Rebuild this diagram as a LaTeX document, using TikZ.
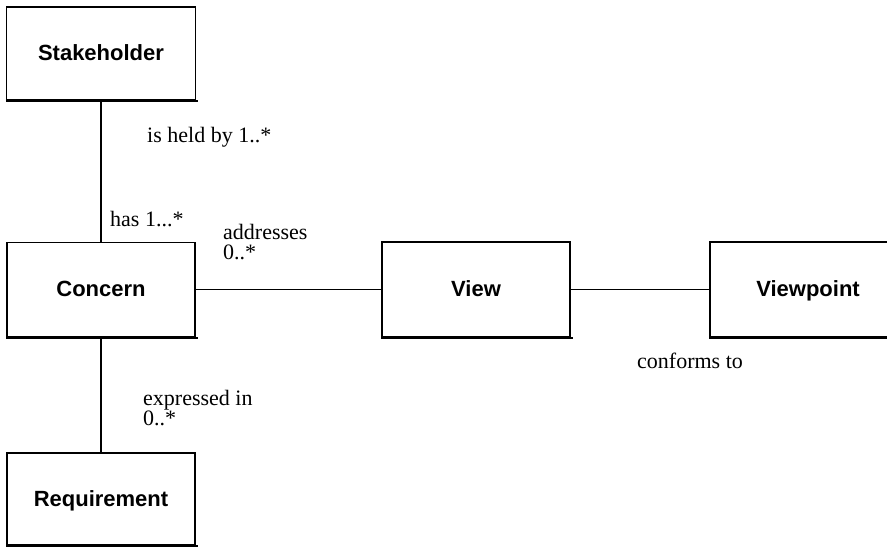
\documentclass[tikz,border=0pt]{standalone}
\usepackage{fontspec}
\setmainfont{Liberation Serif}
\newfontfamily\boxfont{Liberation Sans}
\newcommand\entlbl[1]{\lower3.5pt\hbox{#1}}
\begin{document}
\begin{tikzpicture}[x=1pt,y=-1pt,
  entity/.style={draw=black, line width=1.3pt, rectangle, inner sep=0pt,
    font=\boxfont\bfseries\fontsize{22}{24}\selectfont, text=black,
    text height=0.72em, text depth=0pt},
  lbl/.style={inner sep=0pt, anchor=west, font=\fontsize{22}{23}\selectfont, align=left},
  conn/.style={draw=black, line width=1.3pt}
]
\useasboundingbox (0,0) rectangle (887,547);
\fill[white] (0,0) rectangle (887,547);
\node[entity, minimum width=189pt, minimum height=93pt] (stake) at (101,53.5) {\entlbl{Stakeholder}};
\node[entity, minimum width=188pt, minimum height=94pt] (concern) at (101,289.5) {\entlbl{Concern}};
\node[entity, minimum width=188pt, minimum height=95pt] (view) at (476,289.5) {\entlbl{View}};
\node[entity, minimum width=196pt, minimum height=95pt] (vp) at (808,289.5) {\entlbl{Viewpoint}};
\node[entity, minimum width=188pt, minimum height=92pt] (req) at (101,499) {\entlbl{Requirement}};
\foreach \n in {stake,concern,view,vp,req}{
  \draw[line width=2.4pt] ([yshift=-0.6pt]\n.south west) -- ([xshift=2pt,yshift=-0.6pt]\n.south east);
}
\draw[conn] (stake.south) -- (concern.north);
\draw[conn] (concern.south) -- (req.north);
\draw[conn] (concern.east) -- (view.west);
\draw[conn] (view.east) -- (vp.west);
\node[lbl] (l1) at (147,137) {is held by 1..*};
\node[lbl] (l2) at (110,219) {has 1...*};
\node[lbl] (l3) at (223,242) {addresses\\[-3pt]0..*};
\node[lbl] (l4) at (637,361) {conforms to};
\node[lbl] (l5) at (143,408) {expressed in\\[-3pt]0..*};
\end{tikzpicture}
\end{document}
